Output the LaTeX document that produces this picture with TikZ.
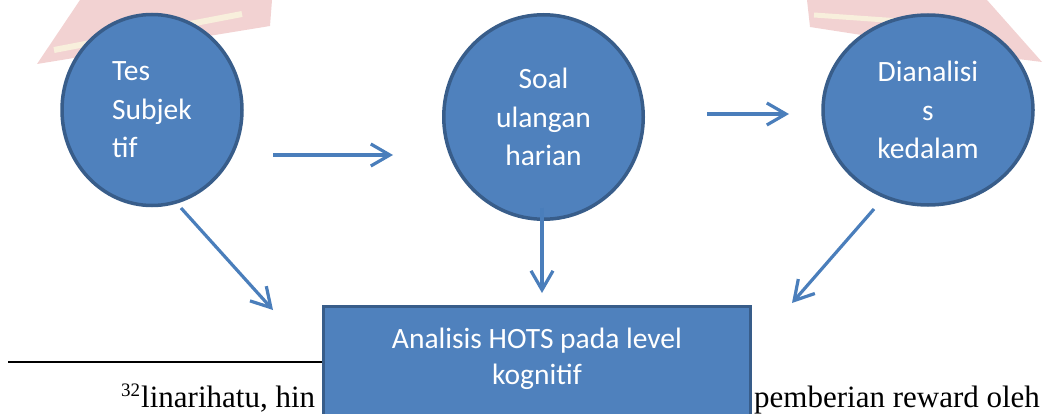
\documentclass[tikz,border=0pt]{standalone}
\usepackage{fontspec}
\setmainfont{Liberation Serif}
\newfontfamily\carlitofont{Carlito}
\usetikzlibrary{arrows.meta,shapes.geometric}
\definecolor{nodefill}{HTML}{4F81BD}
\definecolor{nodeline}{HTML}{385D8A}
\definecolor{arrowc}{HTML}{4A7EBB}
\definecolor{wmpink}{HTML}{F2D2D2}
\definecolor{wmcream}{HTML}{F8EFDC}
\begin{document}
\begin{tikzpicture}[x=1pt,y=-1pt,
  bubble/.style={ellipse, draw=nodeline, line width=3.5pt, fill=nodefill, text=white,
    inner sep=0pt, font=\carlitofont\fontsize{29.5}{38.5}\selectfont},
  hotsbox/.style={rectangle, draw=nodeline, line width=3pt, fill=nodefill, inner sep=0pt},
  hotstext/.style={text=white, align=center, inner sep=0pt,
    font=\carlitofont\fontsize{29.5}{36}\selectfont},
  flow/.style={draw=arrowc, line width=3.2pt,
    -{Straight Barb[length=19pt,width=22pt,line width=3.2pt]}},
  fnote/.style={inner sep=0pt, font=\fontsize{31}{31}\selectfont}
]
\useasboundingbox (0,0) rectangle (1049,414);

% faded watermark
\fill[wmpink] (80,0) -- (272,0) -- (270,26) -- (37,64) -- cycle;
\draw[wmcream, line width=6pt] (54,50) -- (242,14);
\fill[wmpink] (807,0) -- (987,0) -- (1042,62) -- (1010,58) -- (810,27) -- cycle;
\draw[wmcream, line width=5pt] (814,15) -- (900,21);

% circles
\node[bubble, minimum width=180pt, minimum height=191pt, align=left] (c1) at (152,110)
  {Tes\\Subjek\\tif};
\node[bubble, minimum width=199.5pt, minimum height=204.5pt, align=center] (c2) at (543.5,117)
  {Soal\\ulangan\\harian};
\node[bubble, minimum width=210pt, minimum height=190pt, align=center] (c3) at (928,110)
  {Dianalisi\\s\\kedalam};

% footnote
\coordinate (fnl) at (8,362);
\coordinate (fnr) at (330,362);
\draw[black, line width=2pt] (fnl) -- (fnr);
\node[fnote, anchor=base west] (fn1) at (121,407)
  {\raisebox{11pt}{\fontsize{19}{19}\selectfont 32}\hspace{1pt}linarihatu, hin};
\node[fnote, anchor=base west] (fn2) at (754,407) {pemberian reward oleh};

% bottom box
\node[hotsbox, minimum width=427pt, minimum height=140pt, anchor=north] (box) at (536.5,305) {};
\node[hotstext] (boxtext) at (537,359) {Analisis HOTS pada level\\kognitif};

% arrows
\coordinate (a1s) at (273,155);  \coordinate (a1e) at (393,155);
\coordinate (a2s) at (707,114);  \coordinate (a2e) at (789,114);
\coordinate (a3s) at (181,208);  \coordinate (a3e) at (273,310);
\coordinate (a4s) at (542,208);  \coordinate (a4e) at (542,293);
\coordinate (a5s) at (874,209);  \coordinate (a5e) at (792,303);
\draw[flow] (a1s) -- (a1e);
\draw[flow] (a2s) -- (a2e);
\draw[flow] (a3s) -- (a3e);
\draw[flow] (a4s) -- (a4e);
\draw[flow] (a5s) -- (a5e);
\end{tikzpicture}
\end{document}
